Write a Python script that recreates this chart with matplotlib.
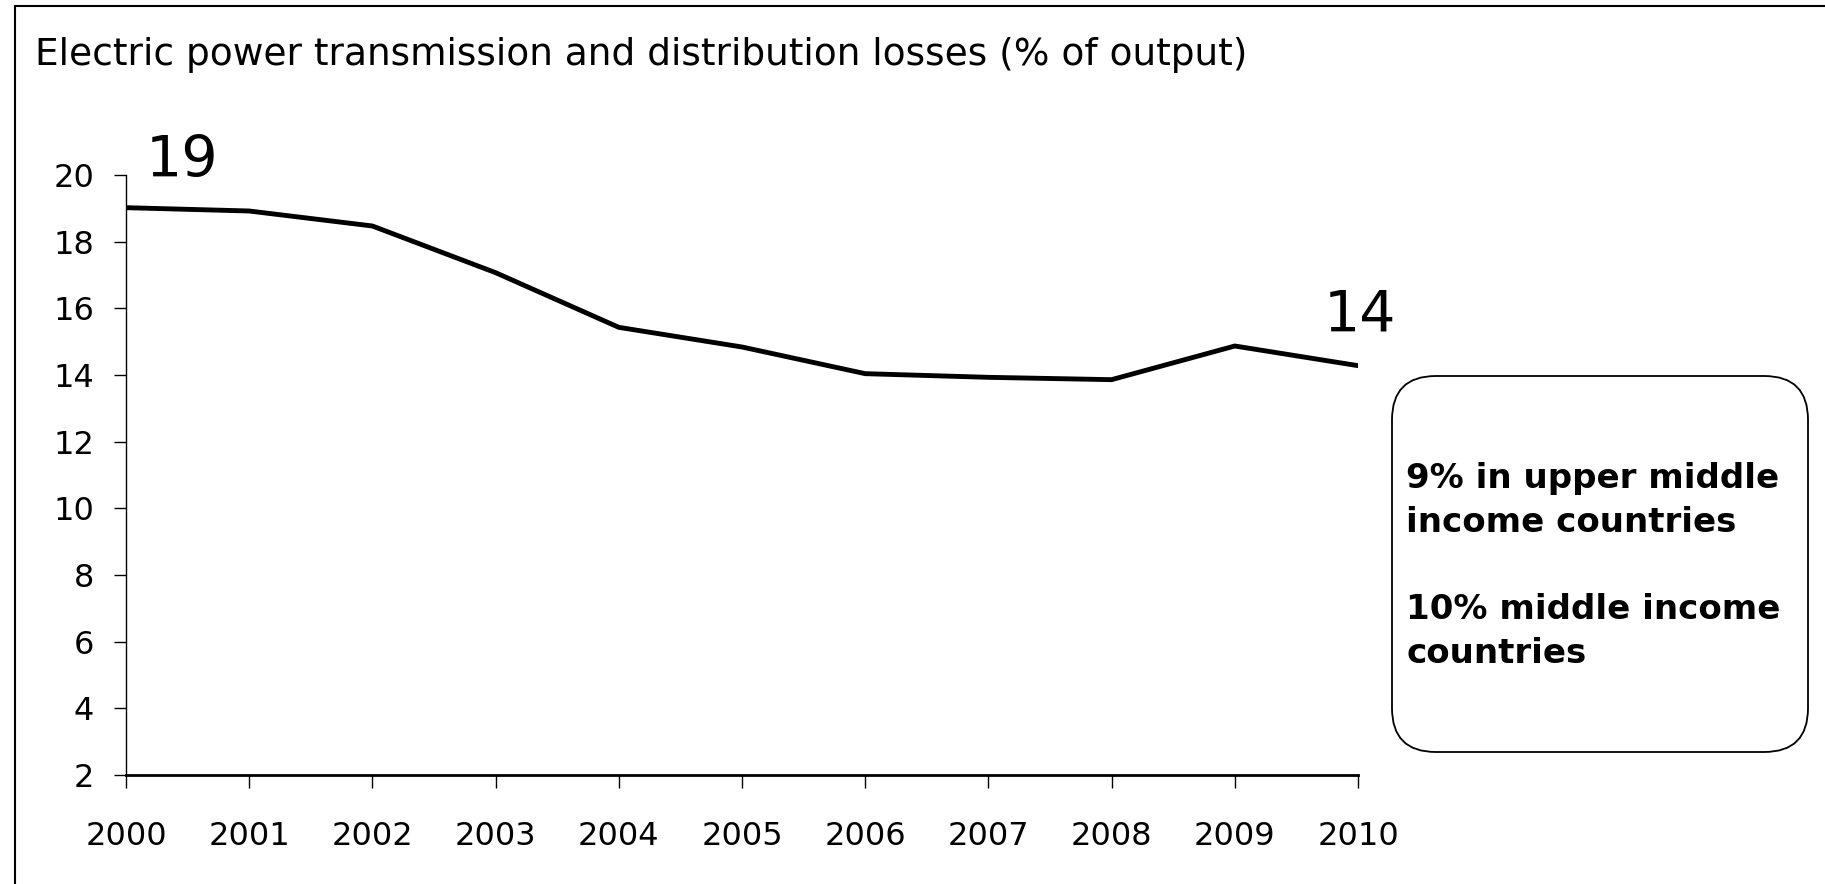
import matplotlib
matplotlib.use("Agg")
import matplotlib.pyplot as plt
from matplotlib.patches import Rectangle, FancyBboxPatch

years = [2000, 2001, 2002, 2003, 2004, 2005, 2006, 2007, 2008, 2009, 2010]
losses = [19.02, 18.92, 18.47, 17.07, 15.43, 14.84, 14.04, 13.93, 13.86, 14.87, 14.28]
yticks = [2, 4, 6, 8, 10, 12, 14, 16, 18, 20]
title = "Electric power transmission and distribution losses (% of output)"
note = "9% in upper middle\nincome countries\n\n10% middle income\ncountries"

plt.rcParams["font.family"] = "DejaVu Sans"

W, H = 1825, 884
fig = plt.figure(figsize=(W / 100, H / 100), dpi=100)
ax = fig.add_axes([126 / W, 1 - 775 / H, (1358 - 126) / W, (775 - 175) / H])

ax.plot(years, losses, color="black", lw=3.5, solid_joinstyle="miter")
ax.set_xlim(years[0], years[-1])
ax.set_ylim(2, 20)
ax.set_xticks(years)
ax.set_yticks(yticks)
ax.tick_params(axis="both", labelsize=23, length=9, width=1, direction="out")
ax.tick_params(axis="y", pad=14)
ax.tick_params(axis="x", pad=24)
for s in ("top", "right"):
    ax.spines[s].set_visible(False)
ax.spines["left"].set_linewidth(1)
ax.spines["bottom"].set_linewidth(2)

# end-point value labels
ax.annotate(f"{losses[0]:.0f}", (years[0], losses[0]), xytext=(56, 46),
            textcoords="offset pixels", ha="center", va="center", fontsize=41)
ax.annotate(f"{losses[-1]:.0f}", (years[-1], losses[-1]), xytext=(2, 50),
            textcoords="offset pixels", ha="center", va="center", fontsize=41)

fig.text(35 / W, 1 - 55 / H, title, fontsize=27, ha="left", va="center")

# callout box
box = FancyBboxPatch((1392 / W, 1 - 752 / H), (1808 - 1392) / W, (752 - 376) / H,
                     boxstyle="round,pad=0,rounding_size=0.024",
                     transform=fig.transFigure, fill=False, ec="black", lw=1.3,
                     mutation_aspect=W / H)
fig.patches.append(box)
fig.text(1406 / W, 1 - 566 / H, note, fontsize=24.5, fontweight="bold",
         ha="left", va="center", linespacing=1.42)

# outer frame
fig.patches.append(Rectangle((15 / W, -0.1), 1.2, 1.1 - 6 / H, transform=fig.transFigure,
                             fill=False, ec="black", lw=1.5))

fig.savefig("out.png", dpi=100)
